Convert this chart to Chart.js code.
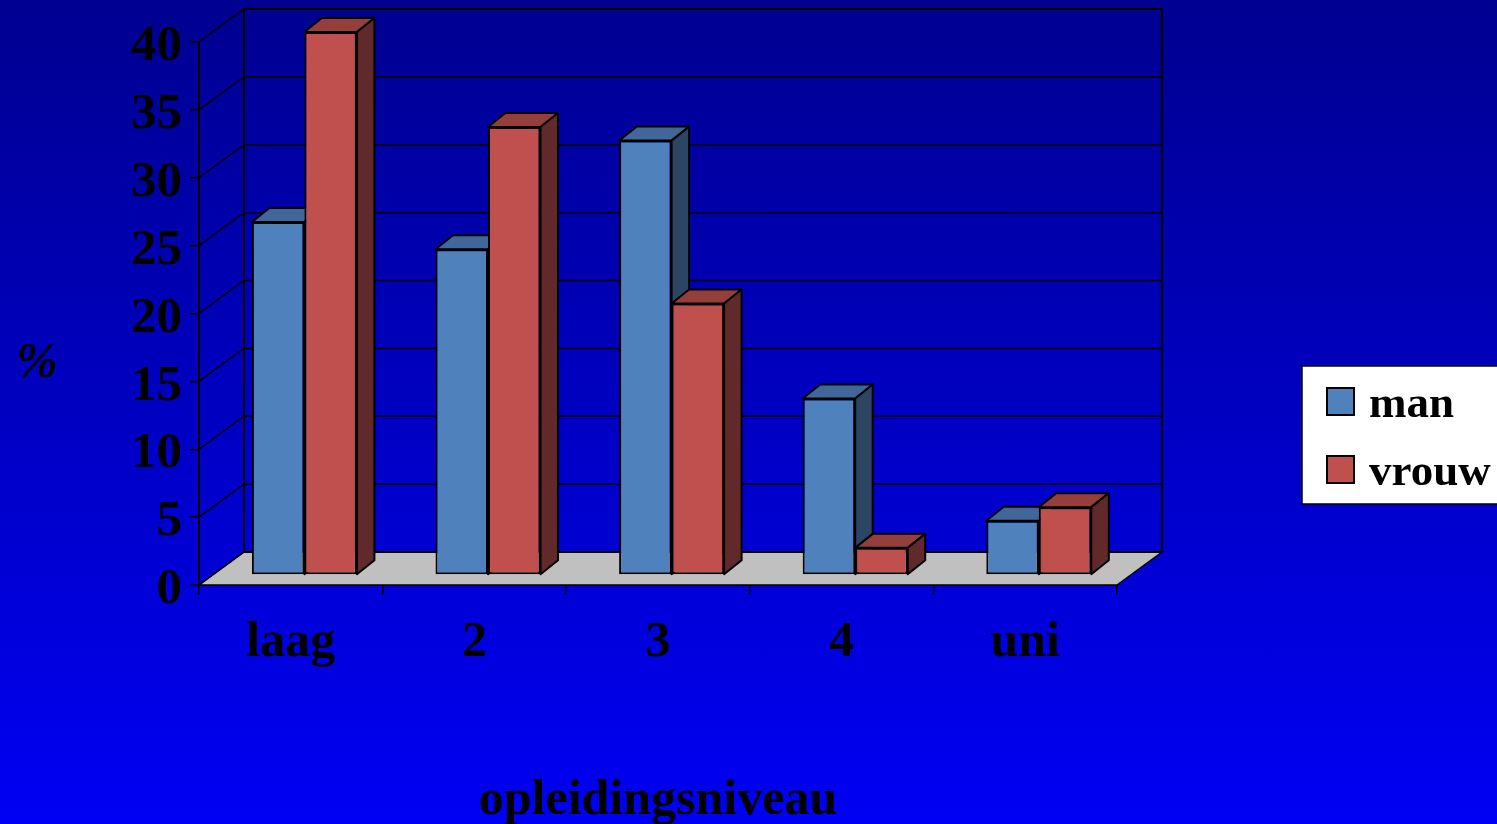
<!DOCTYPE html>
<html>
<head>
<meta charset="utf-8">
<script src="https://cdn.jsdelivr.net/npm/chart.js@4.4.1/dist/chart.umd.min.js"></script>
<style>
    html, body {
        margin: 0;
        padding: 0;
        width: 1497px;
        height: 824px;
        overflow: hidden;
        background: linear-gradient(to bottom, #000090, #0000f4);
    }
    #wrap {
        position: relative;
        width: 1497px;
        height: 824px;
    }
</style>
</head>
<body>
<div id="wrap"><canvas id="chart" width="1497" height="824"></canvas></div>
<script>
const categories = ["laag", "2", "3", "4", "uni"];
const manValues = [26, 24, 32, 13, 4];
const vrouwValues = [40, 33, 20, 2, 5];
const seriesNames = ["man", "vrouw"];

const FONT = "'Liberation Serif', 'Times New Roman', serif";

// 3d look: depth of the walls and of the bars
const WALL_DX = 45, WALL_DY = -33;
const BAR_SHIFT_X = 13.6, BAR_SHIFT_Y = -10;
const BAR_DX = 17.5, BAR_DY = -14;

const faceColors = [
    { front: "#4f81bd", top: "#41679a", side: "#2b4562" },
    { front: "#c0504d", top: "#953f3c", side: "#62292a" }
];

function poly(ctx, pts, fill, stroke, lw) {
    ctx.beginPath();
    ctx.moveTo(pts[0][0], pts[0][1]);
    for (let i = 1; i < pts.length; i++) ctx.lineTo(pts[i][0], pts[i][1]);
    ctx.closePath();
    if (fill) {
        ctx.fillStyle = fill;
        ctx.fill();
    }
    if (stroke) {
        ctx.strokeStyle = stroke;
        ctx.lineWidth = lw;
        ctx.stroke();
    }
}

const threeDPlugin = {
    id: "threeD",
    beforeDatasetsDraw(chart) {
        const ctx = chart.ctx;
        const yScale = chart.scales.y;
        const area = chart.chartArea;
        const y0 = yScale.getPixelForValue(0);
        const yTop = yScale.getPixelForValue(yScale.max);

        ctx.save();
        // floor
        poly(ctx, [
            [area.left, y0],
            [area.right, y0],
            [area.right + WALL_DX, y0 + WALL_DY],
            [area.left + WALL_DX, y0 + WALL_DY]
        ], "#c0c0c0", "#000", 1.5);

        // grid lines on side wall and back wall
        ctx.strokeStyle = "#000";
        ctx.lineWidth = 1.5;
        yScale.ticks.forEach(t => {
            const py = yScale.getPixelForValue(t.value);
            ctx.beginPath();
            ctx.moveTo(area.left, py);
            ctx.lineTo(area.left + WALL_DX, py + WALL_DY);
            if (t.value > 0) {
                ctx.lineTo(area.right + WALL_DX, py + WALL_DY);
            }
            ctx.stroke();
        });

        // back wall frame
        ctx.lineWidth = 2;
        ctx.strokeRect(area.left + WALL_DX, yTop + WALL_DY,
            area.right - area.left, y0 - yTop);
        ctx.restore();
    },
    beforeDatasetDraw() {
        // bars are drawn below, in front-to-back order with their faces
        return false;
    },
    afterDatasetsDraw(chart) {
        const ctx = chart.ctx;
        ctx.save();
        ctx.translate(BAR_SHIFT_X, BAR_SHIFT_Y);
        ctx.lineJoin = "round";
        for (let i = 0; i < categories.length; i++) {
            chart.data.datasets.forEach((ds, d) => {
                const bar = chart.getDatasetMeta(d).data[i];
                const p = bar.getProps(["x", "y", "base", "width"], true);
                const l = p.x - p.width / 2;
                const r = p.x + p.width / 2;
                const c = faceColors[d];
                poly(ctx, [[l, p.y], [l + BAR_DX, p.y + BAR_DY], [r + BAR_DX, p.y + BAR_DY], [r, p.y]],
                    c.top, "#000", 2);
                poly(ctx, [[r, p.y], [r + BAR_DX, p.y + BAR_DY], [r + BAR_DX, p.base + BAR_DY], [r, p.base]],
                    c.side, "#000", 2);
                bar.draw(ctx);
            });
        }
        ctx.restore();
    },
    afterDraw(chart) {
        const ctx = chart.ctx;
        ctx.save();

        // y axis label
        ctx.fillStyle = "#000";
        ctx.font = "italic bold 50px " + FONT;
        ctx.textBaseline = "alphabetic";
        ctx.textAlign = "left";
        ctx.fillText("%", 16, 377);

        // legend
        ctx.fillStyle = "#fff";
        ctx.fillRect(1302, 366, 220, 138);
        ctx.strokeStyle = "#000";
        ctx.lineWidth = 1.5;
        ctx.strokeRect(1302, 366, 220, 138);
        ctx.font = "bold 45px " + FONT;
        const rows = [388, 456];
        chart.data.datasets.forEach((ds, d) => {
            ctx.fillStyle = ds.backgroundColor;
            ctx.fillRect(1327, rows[d], 27, 27);
            ctx.lineWidth = 2;
            ctx.strokeRect(1327, rows[d], 27, 27);
            ctx.fillStyle = "#000";
            ctx.fillText(ds.label, 1369, rows[d] + 29);
        });
        ctx.restore();
    }
};

new Chart(document.getElementById("chart"), {
    type: "bar",
    data: {
        labels: categories,
        datasets: [
            {
                label: seriesNames[0],
                data: manValues,
                backgroundColor: faceColors[0].front,
                borderColor: "#000",
                borderWidth: 2,
                borderSkipped: false
            },
            {
                label: seriesNames[1],
                data: vrouwValues,
                backgroundColor: faceColors[1].front,
                borderColor: "#000",
                borderWidth: 2,
                borderSkipped: false
            }
        ]
    },
    options: {
        responsive: false,
        animation: false,
        devicePixelRatio: 1,
        barPercentage: 1,
        categoryPercentage: 0.572,
        layout: {
            padding: { top: 42, right: 380, bottom: 0, left: 0 }
        },
        plugins: {
            legend: { display: false },
            tooltip: { enabled: false }
        },
        scales: {
            x: {
                grid: {
                    drawOnChartArea: false,
                    drawTicks: true,
                    tickLength: 10,
                    color: "#000",
                    lineWidth: 1.5
                },
                border: { display: true, color: "#000", width: 1.5 },
                ticks: {
                    color: "#000",
                    padding: 18,
                    font: { family: FONT, size: 50, weight: "bold" }
                },
                title: {
                    display: true,
                    text: "opleidingsniveau",
                    color: "#000",
                    padding: { top: 0, bottom: -7 },
                    font: { family: FONT, size: 50, weight: "bold" }
                },
                afterFit(scale) {
                    scale.height = 239;
                }
            },
            y: {
                min: 0,
                max: 40,
                ticks: {
                    stepSize: 5,
                    color: "#000",
                    padding: 8,
                    labelOffset: 5,
                    font: { family: FONT, size: 51, weight: "bold" }
                },
                grid: {
                    drawOnChartArea: false,
                    drawTicks: true,
                    tickLength: 9,
                    color: "#000",
                    lineWidth: 1.5
                },
                border: { display: true, color: "#000", width: 2 },
                afterFit(scale) {
                    scale.width = 199;
                }
            }
        }
    },
    plugins: [threeDPlugin]
});
</script>
</body>
</html>
